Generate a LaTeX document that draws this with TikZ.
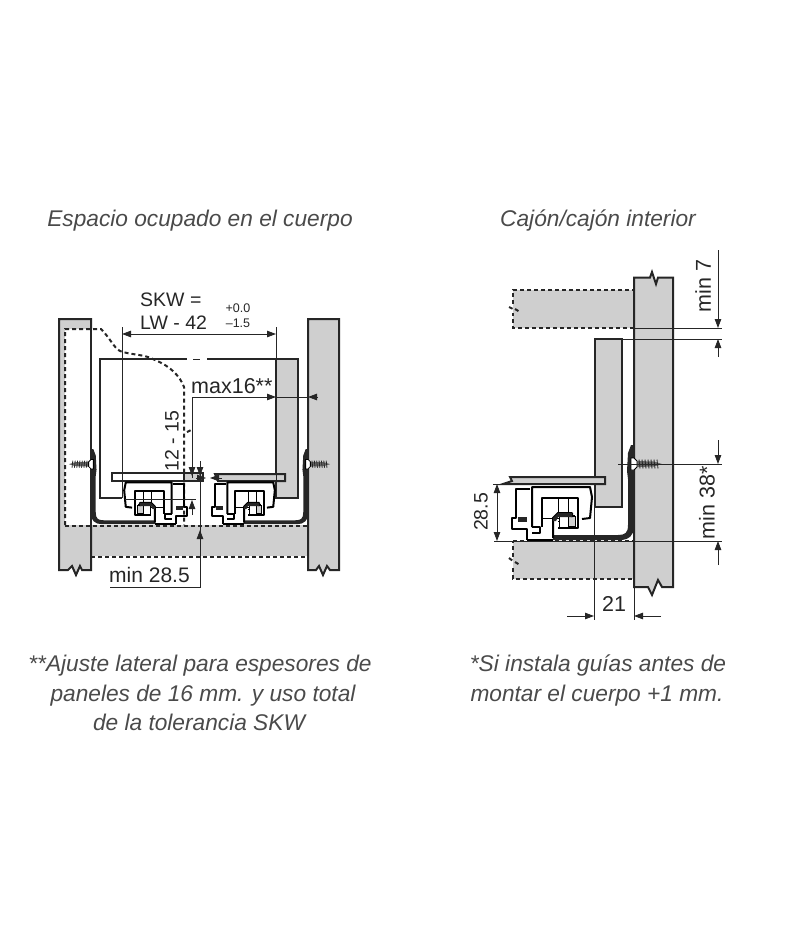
\documentclass[tikz,border=0pt]{standalone}
\usepackage{fontspec}
\setmainfont{Liberation Sans}
\usetikzlibrary{arrows.meta}
\definecolor{panelgray}{HTML}{CFCFCF}
\definecolor{inkdark}{HTML}{262626}
\definecolor{textgray}{HTML}{4A4A4A}
\tikzset{railprofile/.pic={
% bracket
\fill[inkdark] (0,-96)--(-3,-96)--(-6,-88)--(-7,-70)--(-6,-62)--(-6,-16)..controls (-6,-8) and (-9,-6)..(-16,-6)--(-81,-6)--(-81,-1)--(-14,-1)..controls (-5,-1) and (0,-6)..(0,-14)--cycle;
\draw[line width=2pt] (-107,-1)--(-81,-1);
% screw
\fill[black!60] (-1,-80)--(2,-80)--(4,-80)--(20,-79.5)--(28,-77)--(20,-74.5)--(4,-74)--(2,-74)--(-1,-74)--cycle;
\foreach \x in {5,8,...,23}
\draw[inkdark,line width=.8pt] (\x,-81.5)--(\x+1,-72.5);
\draw[line width=.8pt,fill=white] (-3,-83)--(0,-83)--(3,-80)--(3,-74)--(0,-71)--(-3,-71)--cycle;
% rail
\draw[thin] (-76,-43)--(-76,-28) (-66,-43)--(-66,-28) (-92,-23)--(-60,-23) (-76,-20)--(-60,-20);
\draw[thin,fill=white] (-75,-26) rectangle (-60,-13);
\draw[thin,fill=panelgray] (-66,-25) rectangle (-59,-15);
\draw[rail line] (-102,-14)--(-102,-54)--(-44,-54)--(-42,-44)--(-44,-23)--(-52,-22);
\draw[rail line] (-104,-52)--(-118,-52)--(-118,-23)--(-122,-23)--(-122,-12)--(-107,-12)--(-107,-1);
\draw[rail line] (-102,-14)--(-94,-14)--(-94,-8)--(-102,-8);
\draw[rail line] (-92,-14)--(-92,-43)--(-56,-43)--(-56,-13)--(-76,-13);
\draw[rail line] (-81,-3)--(-81,-23)--(-76,-28)--(-62,-28)--(-62,-24);
\fill[inkdark] (-116,-24) rectangle (-107,-19);
\fill[inkdark] (-81,-23)--(-76,-28)--(-62,-28)--(-62,-24)--(-76,-24)--(-78,-20)--(-81,-20)--cycle;
}}
\begin{document}
\begin{tikzpicture}[x=1pt,y=-1pt,font=\fontsize{20}{24}\selectfont]
\useasboundingbox (0,0) rectangle (800,945);
% Styles for outlines and dimensions
\tikzstyle{solid edge}=[line width=2pt,draw=inkdark];
\tikzstyle{dash edge}=[line width=2pt,draw=inkdark,dash pattern=on 4pt off 3pt];
\tikzstyle{rail line}=[line width=2pt,draw=black,line join=round];
\tikzstyle{thin line}=[line width=.8pt,draw=inkdark];
\tikzstyle{dim line}=[line width=.8pt,draw=inkdark,-{Triangle[length=9pt,width=6.5pt]}];
\tikzstyle{both line}=[line width=.8pt,draw=inkdark,{Triangle[length=9pt,width=6.5pt]}-{Triangle[length=9pt,width=6.5pt]}];
\tikzstyle{caption}=[text=textgray,anchor=base,inner sep=0,font=\fontsize{22.7}{27}\selectfont\itshape];
\tikzstyle{dim label}=[text=inkdark,inner sep=0,font=\fontsize{19.5}{23}\selectfont];
\tikzstyle{wide label}=[text=inkdark,inner sep=0,font=\fontsize{21.5}{25}\selectfont];
\tikzstyle{tol label}=[text=inkdark,inner sep=0,font=\fontsize{12.5}{15}\selectfont];
% Captions
\node(title1)[caption]at(200,226){Espacio ocupado en el cuerpo};
\node(title2)[caption]at(598,226){Cajón/cajón interior};
\node(note1a)[caption]at(200,671){**Ajuste lateral para espesores de};
\node(note1b)[caption]at(203,701){paneles de 16 mm. y uso total};
\node(note1c)[caption]at(199,730){de la tolerancia SKW};
\node(note2a)[caption]at(598,671){*Si instala guías antes de};
\node(note2b)[caption]at(597,701){montar el cuerpo +1 mm.};
% Left view: walls
\fill[panelgray] (91,525) rectangle (308,556);
\draw[solid edge,fill=panelgray] (59,570)--(59,319)--(91,319)--(91,570)--(82,570)--(80,566)--(76,575)--(72,566)--(68,570)--cycle;
\draw[solid edge,fill=panelgray] (308,570)--(308,319)--(339,319)--(339,570)--(330,570)--(327,566)--(323,575)--(319,566)--(316,570)--cycle;
\fill[white] (65,329)--(101,329)--(101,525)--(65,525)--cycle;
\draw[solid edge] (91,319)--(91,525);
% Left view: drawer sides
\draw[solid edge,fill=white] (122,498)--(100,498)--(100,359)--(187,359);
\draw[thin line] (193,359)--(200,359);
\draw[solid edge] (207,359)--(276,359);
\draw[solid edge,fill=panelgray] (276,359) rectangle (298,498);
% Left view: hidden edges
\draw[dash edge] (65,525)--(65,329)--(101,329) .. controls (110,338) and (114,348) .. (120,351) .. controls (130,355) and (145,354) .. (155,360) .. controls (170,366) and (180,376) .. (184,387)--(184,525);
\draw[dash edge] (187,432)--(191,430);
\draw[dash edge] (65,525.5)--(308,525.5);
\draw[dash edge] (91,556.5)--(308,556.5) (91,525)--(91,556);
% Left view: drawer bottom and rails
\draw[solid edge,fill=white] (112,473) rectangle (184,481);
\draw[solid edge,fill=panelgray] (184,473) rectangle (203,481);
\draw[solid edge,fill=panelgray] (215,474)--(285,474)--(285,481)--(218,481)--cycle;
\pic[xscale=-.79,yscale=.79] at (91,525) {railprofile};
\pic[scale=.79] at (308,525) {railprofile};
% Left view: dimensions
\draw[thin line] (122,327)--(122,498) (276,327)--(276,498);
\draw[both line] (122,334)--(276,334);
\node(skw1)[dim label,anchor=base west]at(140,306){SKW =};
\node(skw2)[dim label,anchor=base west]at(140,329){LW - 42};
\node(tolup)[tol label]at(238,308){+0.0};
\node(toldn)[tol label]at(238,323){–1.5};
\node(max16)[wide label,anchor=base west]at(191,393){max16**};
\draw[dim line] (192,478)--(192,397)--(276,397);
\draw[dim line] (318,397)--(308,397);
\draw[thin line] (276,397)--(308,397);
\draw[dim line] (192,463)--(192,476);
\draw[dim line] (192,515)--(192,500);
\draw[thin line] (125,499)--(196,499);
\node(gap)[dim label,rotate=90]at(172,441){12 - 15};
\draw[thin line] (200,461)--(200,587)--(110,587);
\draw[dim line] (200,463)--(200,476);
\draw[dim line] (200,550)--(200,530);
\draw[dim line] (196,478)--(206,478);
\draw[dim line] (222,478)--(210,478);
\node(min285)[wide label,font=\fontsize{21}{25}\selectfont,anchor=base west]at(109,582){min 28.5};
% Right view: walls and shelves
\fill[panelgray] (513,290) rectangle (634,328);
\draw[dash edge] (634,328)--(513,328)--(513,313) (513,304)--(513,290)--(634,290);
\draw[dash edge] (509,307)--(513,309) (515,309)--(520,312);
\fill[panelgray] (513,541) rectangle (634,579);
\draw[dash edge] (513,541)--(634,541)--(634,579)--(513,579)--(513,566) (513,557)--(513,541);
\draw[dash edge] (509,558)--(513,561) (515,562)--(520,565);
\draw[solid edge,fill=panelgray] (634,587)--(634,277.5)--(650,277.5)--(652,272)--(656,284)--(658,277.5)--(673,277.5)--(673,587)--(662,587)--(658,580)--(652,595)--(648,587)--cycle;
% Right view: drawer
\draw[solid edge,fill=panelgray] (595,339) rectangle (622,507);
\draw[solid edge,fill=panelgray] (605,477)--(605,484)--(503,484)--(512,481)--(510,477)--cycle;
\pic at (634,541) {railprofile};
% Right view: dimensions
\draw[thin line] (634,328)--(722,328) (594,339)--(722,339);
\draw[thin line] (618,464)--(722,464) (494,541)--(722,541) (493,484)--(530,484);
\draw[thin line] (594,500)--(594,620) (634,587)--(634,620);
\draw[dim line] (718,250)--(718,328);
\draw[dim line] (718,357)--(718,339);
\node(min7)[wide label,rotate=90]at(703,286){min 7};
\draw[dim line] (718,440)--(718,464);
\draw[dim line] (718,565)--(718,541);
\node(min38)[wide label,rotate=90]at(707,503){min 38*};
\draw[both line] (497,484)--(497,541);
\node(h285)[dim label,rotate=90]at(481,512){28.5};
\draw[dim line] (567,616)--(594,616);
\draw[dim line] (661,616)--(634,616);
\node(w21)[wide label]at(614,604){21};
\end{tikzpicture}
\end{document}
